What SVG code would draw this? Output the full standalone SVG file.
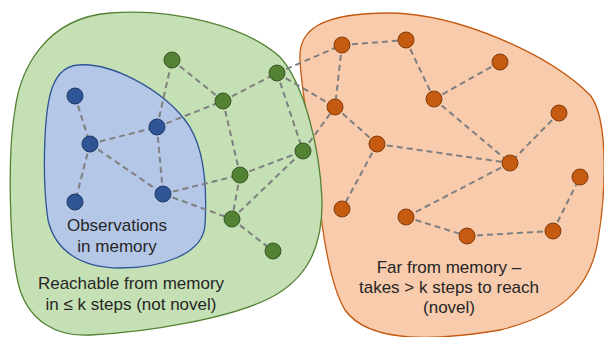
<svg xmlns="http://www.w3.org/2000/svg" width="604" height="337" viewBox="0 0 604 337">
<style>
.edge{stroke:#7f7f7f;stroke-width:2;stroke-dasharray:6 4;fill:none}
.bn{fill:#2f5597;stroke:#203864;stroke-width:1}
.gn{fill:#548235;stroke:#385723;stroke-width:1}
.on{fill:#c55a11;stroke:#843c0c;stroke-width:1}
.lbl{font-family:"Liberation Sans",Arial,sans-serif;font-size:17px;fill:#262626;text-anchor:middle}
</style>
<rect width="604" height="337" fill="#ffffff"/>
<g id="region-far">
<path d="M 300 60 C 298 30, 320 13, 390 13 C 460 14, 550 55, 590 95 C 610 120, 605 200, 598 240 C 590 290, 560 315, 500 330 C 440 340, 370 345, 345 310 C 330 285, 322 230, 318 190 C 312 140, 302 100, 300 60 Z" fill="#f8cbad" stroke="#c55a11" stroke-width="1.3"/>
</g>
<g id="region-reachable">
<path d="M 110 13 C 170 8, 245 25, 280 57 C 305 85, 320 150, 322 200 C 323 250, 305 280, 270 298 C 230 318, 150 332, 90 335 C 55 337, 30 320, 20 290 C 8 250, 8 150, 15 110 C 20 70, 45 18, 110 13 Z" fill="#c5e0b4" stroke="#548235" stroke-width="1.3"/>
</g>
<g id="region-memory">
<path d="M 78 65 C 110 62, 160 88, 185 120 C 205 145, 207 190, 205 225 C 203 255, 160 268, 120 268 C 80 268, 55 250, 48 220 C 42 180, 44 120, 50 95 C 55 75, 64 66, 78 65 Z" fill="#b4c7e7" stroke="#2f5597" stroke-width="1.3"/>
</g>
<g id="connectors">
<line class="edge" x1="75" y1="96" x2="90" y2="144"/>
<line class="edge" x1="90" y1="144" x2="75" y2="202"/>
<line class="edge" x1="90" y1="144" x2="157" y2="127"/>
<line class="edge" x1="90" y1="144" x2="163" y2="194"/>
<line class="edge" x1="157" y1="127" x2="163" y2="194"/>
<line class="edge" x1="157" y1="127" x2="172" y2="60"/>
<line class="edge" x1="157" y1="127" x2="223" y2="101"/>
<line class="edge" x1="163" y1="194" x2="240" y2="175"/>
<line class="edge" x1="163" y1="194" x2="232" y2="219"/>
<line class="edge" x1="172" y1="60" x2="223" y2="101"/>
<line class="edge" x1="223" y1="101" x2="277" y2="73"/>
<line class="edge" x1="223" y1="101" x2="240" y2="175"/>
<line class="edge" x1="277" y1="73" x2="303" y2="151"/>
<line class="edge" x1="277" y1="73" x2="342" y2="45"/>
<line class="edge" x1="277" y1="73" x2="335" y2="107"/>
<line class="edge" x1="303" y1="151" x2="335" y2="107"/>
<line class="edge" x1="240" y1="175" x2="303" y2="151"/>
<line class="edge" x1="232" y1="219" x2="303" y2="151"/>
<line class="edge" x1="240" y1="175" x2="232" y2="219"/>
<line class="edge" x1="232" y1="219" x2="273" y2="251"/>
<line class="edge" x1="342" y1="45" x2="406" y2="40"/>
<line class="edge" x1="342" y1="45" x2="335" y2="107"/>
<line class="edge" x1="406" y1="40" x2="434" y2="99"/>
<line class="edge" x1="500" y1="62" x2="434" y2="99"/>
<line class="edge" x1="434" y1="99" x2="510" y2="163"/>
<line class="edge" x1="335" y1="107" x2="377" y2="144"/>
<line class="edge" x1="377" y1="144" x2="510" y2="163"/>
<line class="edge" x1="377" y1="144" x2="342" y2="209"/>
<line class="edge" x1="559" y1="113" x2="510" y2="163"/>
<line class="edge" x1="510" y1="163" x2="406" y2="217"/>
<line class="edge" x1="406" y1="217" x2="467" y2="236"/>
<line class="edge" x1="467" y1="236" x2="553" y2="231"/>
<line class="edge" x1="553" y1="231" x2="580" y2="177"/>
</g>
<g id="memory-nodes">
<circle class="bn" cx="75" cy="96" r="8"/>
<circle class="bn" cx="90" cy="144" r="8"/>
<circle class="bn" cx="75" cy="202" r="8"/>
<circle class="bn" cx="157" cy="127" r="8"/>
<circle class="bn" cx="163" cy="194" r="8"/>
</g>
<g id="reachable-nodes">
<circle class="gn" cx="172" cy="60" r="8"/>
<circle class="gn" cx="223" cy="101" r="8"/>
<circle class="gn" cx="277" cy="73" r="8"/>
<circle class="gn" cx="303" cy="151" r="8"/>
<circle class="gn" cx="240" cy="175" r="8"/>
<circle class="gn" cx="232" cy="219" r="8"/>
<circle class="gn" cx="273" cy="251" r="8"/>
</g>
<g id="far-nodes">
<circle class="on" cx="342" cy="45" r="8"/>
<circle class="on" cx="406" cy="40" r="8"/>
<circle class="on" cx="500" cy="62" r="8"/>
<circle class="on" cx="434" cy="99" r="8"/>
<circle class="on" cx="335" cy="107" r="8"/>
<circle class="on" cx="559" cy="113" r="8"/>
<circle class="on" cx="377" cy="144" r="8"/>
<circle class="on" cx="510" cy="163" r="8"/>
<circle class="on" cx="580" cy="177" r="8"/>
<circle class="on" cx="342" cy="209" r="8"/>
<circle class="on" cx="406" cy="217" r="8"/>
<circle class="on" cx="467" cy="236" r="8"/>
<circle class="on" cx="553" cy="231" r="8"/>
</g>
<g id="labels">
<text class="lbl" x="117" y="231">Observations</text>
<text class="lbl" x="117" y="252">in memory</text>
<text class="lbl" x="131" y="289">Reachable from memory</text>
<text class="lbl" x="131" y="310">in ≤ k steps (not novel)</text>
<text class="lbl" x="449" y="273">Far from memory –</text>
<text class="lbl" x="449" y="293">takes &gt; k steps to reach</text>
<text class="lbl" x="449" y="313">(novel)</text>
</g>
</svg>
